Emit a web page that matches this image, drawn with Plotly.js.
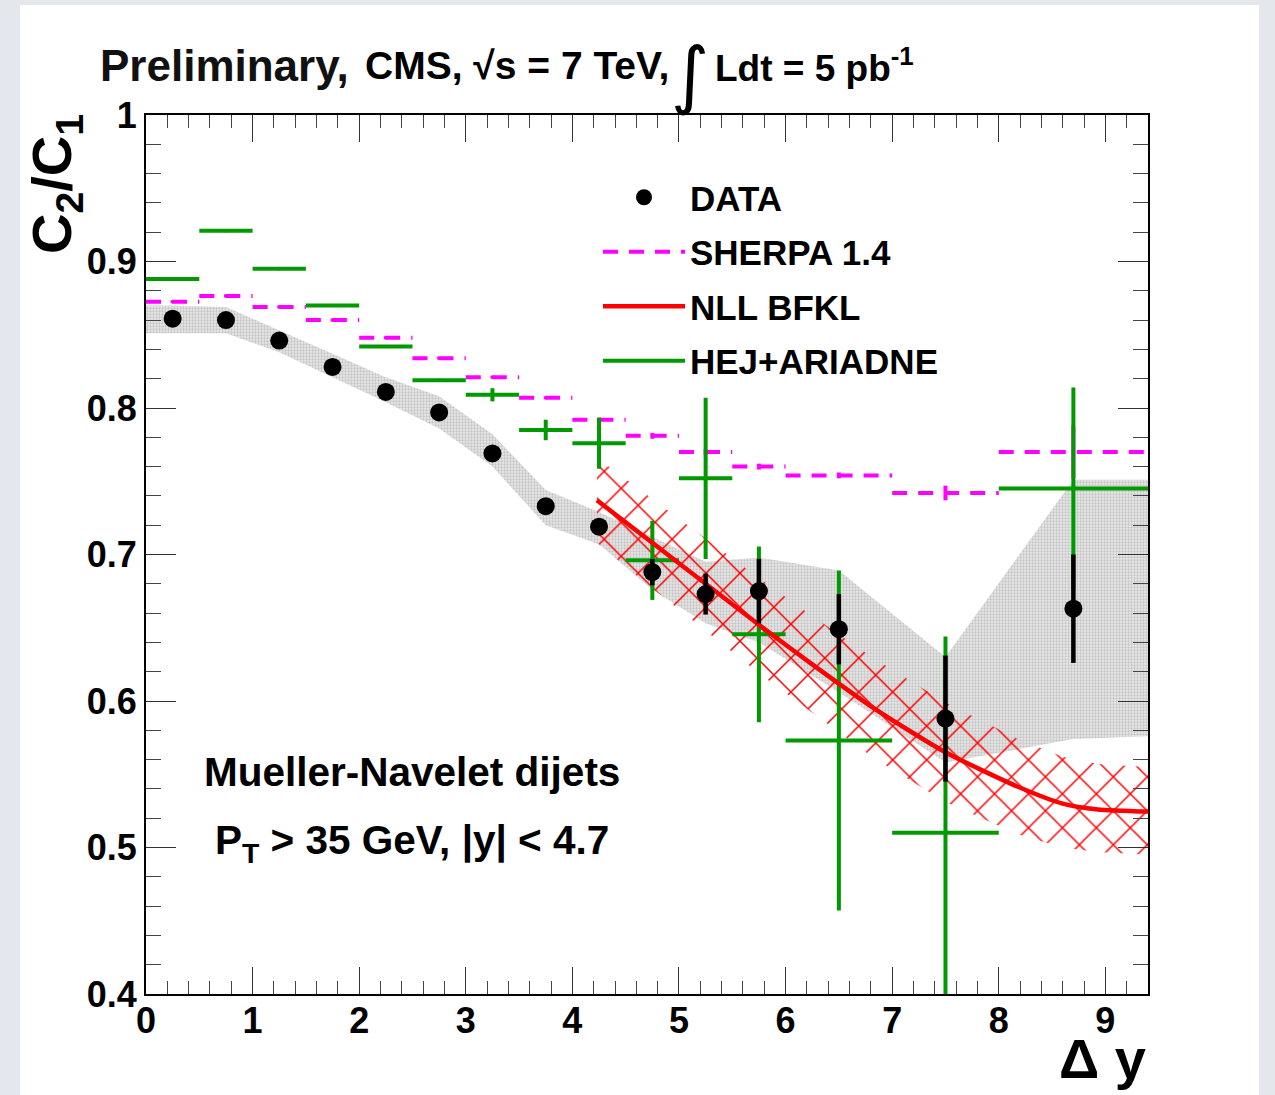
<!DOCTYPE html>
<html>
<head>
<meta charset="utf-8">
<script src="https://cdn.plot.ly/plotly-3.0.1.min.js"></script>
<style>
  html, body { margin: 0; padding: 0; background: #e4e7eb; width: 1275px; height: 1095px; overflow: hidden; }
  #plot { position: absolute; left: 20px; top: 5px; width: 1239px; height: 1090px; background: #ffffff; }
</style>
</head>
<body>
<div id="plot"></div>
<script>
// ---------------- data ----------------
// bin edges in delta-y (shared by SHERPA / HEJ / DATA binning)
const binEdges = [0, 0.5, 1, 1.5, 2, 2.5, 3, 3.5, 4, 4.5, 5, 5.5, 6, 7, 8, 9.4];

// DATA: C2/C1 with statistical errors
const dataY   = [0.861, 0.860, 0.846, 0.828, 0.811, 0.797, 0.769, 0.733, 0.719, 0.688, 0.673, 0.675, 0.649, 0.588, 0.663];
const dataErr = [0.003, 0.003, 0.003, 0.003, 0.003, 0.003, 0.004, 0.004, 0.005, 0.009, 0.014, 0.022, 0.024, 0.043, 0.037];

// DATA systematic band (edges of grey band)
const bandX  = [0, 0.25, 0.75, 1.25, 1.75, 2.25, 2.75, 3.25, 3.75, 4.25, 4.75, 5.25, 5.75, 6.5, 7.5, 8.7, 9.4];
const bandHi = [0.870, 0.870, 0.869, 0.853, 0.837, 0.821, 0.808, 0.782, 0.744, 0.729, 0.712, 0.695, 0.698, 0.689, 0.630, 0.751, 0.751];
const bandLo = [0.851, 0.851, 0.851, 0.838, 0.821, 0.804, 0.786, 0.760, 0.720, 0.707, 0.676, 0.653, 0.640, 0.606, 0.558, 0.574, 0.576];

// SHERPA 1.4
const sherpaY   = [0.8726, 0.8765, 0.869, 0.860, 0.848, 0.834, 0.821, 0.807, 0.792, 0.781, 0.770, 0.760, 0.754, 0.742, 0.770];
const sherpaErr = [0.001, 0.001, 0.001, 0.001, 0.001, 0.001, 0.001, 0.001, 0.001, 0.002, 0.002, 0.002, 0.002, 0.005, 0.018];

// HEJ+ARIADNE
const hejY   = [0.888, 0.921, 0.895, 0.870, 0.842, 0.819, 0.809, 0.785, 0.776, 0.696, 0.752, 0.6455, 0.573, 0.510, 0.745];
const hejErr = [0.001, 0.001, 0.001, 0.001, 0.001, 0.001, 0.0045, 0.007, 0.0175, 0.027, 0.055, 0.060, 0.116, 0.134, 0.069];

// NLL BFKL central curve and uncertainty band
const nllX  = [4.23, 4.75, 5.25, 5.75, 6.25, 6.83, 7.5, 8.18, 8.6, 8.93, 9.4];
const nllY  = [0.737, 0.708, 0.680, 0.652, 0.625, 0.595, 0.565, 0.5415, 0.530, 0.526, 0.5245];
const nllHi = [0.766, 0.738, 0.711, 0.684, 0.658, 0.629, 0.599, 0.574, 0.562, 0.557, 0.555];
const nllLo = [0.708, 0.677, 0.648, 0.619, 0.592, 0.561, 0.531, 0.509, 0.500, 0.497, 0.495];

// axis ticks
const xTicks = [0, 1, 2, 3, 4, 5, 6, 7, 8, 9];
const yTicks = [0.4, 0.5, 0.6, 0.7, 0.8, 0.9, 1];

// ---------------- derived helpers ----------------
const binCenters = [];
for (let i = 0; i < binEdges.length - 1; i++) {
  binCenters.push((binEdges[i] + binEdges[i + 1]) / 2);
}
function stepSegments(vals) {
  const xs = [], ys = [];
  for (let i = 0; i < vals.length; i++) {
    xs.push(binEdges[i], binEdges[i + 1], null);
    ys.push(vals[i], vals[i], null);
  }
  return {x: xs, y: ys};
}
const sherpaSeg = stepSegments(sherpaY);
const hejSeg = stepSegments(hejY);

const FONT = 'Liberation Sans, Arial, Helvetica, sans-serif';
const GREEN = '#009a00';
const MAGENTA = '#ff00ff';
const RED = '#ff0000';

const traces = [
  // grey systematic band
  {
    type: 'scatter', mode: 'lines',
    x: bandX.concat(bandX.slice().reverse()),
    y: bandHi.concat(bandLo.slice().reverse()),
    fill: 'toself', fillcolor: 'rgb(220,220,220)',
    fillpattern: {shape: '.', size: 3, solidity: 0.45, fgcolor: 'rgb(196,196,196)', bgcolor: 'rgb(232,232,232)', fgopacity: 1},
    line: {width: 0, color: 'rgba(0,0,0,0)'},
    showlegend: false, hoverinfo: 'skip'
  },
  // NLL BFKL hatched band
  {
    type: 'scatter', mode: 'lines',
    x: nllX.concat(nllX.slice().reverse()),
    y: nllHi.concat(nllLo.slice().reverse()),
    fill: 'toself', fillcolor: 'rgba(0,0,0,0)',
    fillpattern: {shape: 'x', size: 24, solidity: 0.12, fgcolor: RED, fgopacity: 1, bgcolor: 'rgba(0,0,0,0)', fillmode: 'overlay'},
    line: {width: 0, color: 'rgba(0,0,0,0)'},
    showlegend: false, hoverinfo: 'skip'
  },
  // SHERPA dashed bin lines
  {
    type: 'scatter', mode: 'lines', name: 'SHERPA 1.4',
    x: sherpaSeg.x, y: sherpaSeg.y, connectgaps: false,
    line: {color: MAGENTA, width: 4, dash: '15px,11px'},
    legendrank: 2, legendgroup: 'g2'
  },
  // SHERPA error bars
  {
    type: 'scatter', mode: 'markers',
    x: binCenters, y: sherpaY,
    marker: {size: 1, color: 'rgba(0,0,0,0)'},
    error_y: {type: 'data', array: sherpaErr, visible: true, color: MAGENTA, thickness: 4, width: 0},
    showlegend: false, hoverinfo: 'skip'
  },
  // HEJ+ARIADNE bin lines
  {
    type: 'scatter', mode: 'lines', name: 'HEJ+ARIADNE',
    x: hejSeg.x, y: hejSeg.y, connectgaps: false,
    line: {color: GREEN, width: 4},
    legendrank: 4, legendgroup: 'g4'
  },
  // HEJ error bars
  {
    type: 'scatter', mode: 'markers',
    x: binCenters, y: hejY,
    marker: {size: 1, color: 'rgba(0,0,0,0)'},
    error_y: {type: 'data', array: hejErr, visible: true, color: GREEN, thickness: 4, width: 0},
    showlegend: false, hoverinfo: 'skip'
  },
  // NLL BFKL curve
  {
    type: 'scatter', mode: 'lines', name: 'NLL BFKL',
    x: nllX, y: nllY,
    line: {color: RED, width: 4.5, shape: 'spline', smoothing: 0.6},
    legendrank: 3, legendgroup: 'g3'
  },
  // DATA points
  {
    type: 'scatter', mode: 'markers', name: 'DATA',
    x: binCenters, y: dataY,
    marker: {size: 18, color: '#000000', symbol: 'circle'},
    error_y: {type: 'data', array: dataErr, visible: true, color: '#000000', thickness: 4.5, width: 0},
    legendrank: 1, legendgroup: 'g1'
  }
];

function px2x(px) { return (px - 146) / 1002; }
function py2y(py) { return (994 - py) / 879; }

const bold = {family: FONT, color: '#000000', weight: 'bold'};

const layout = {
  width: 1239, height: 1090,
  margin: {l: 126, r: 111, t: 110, b: 101, pad: 0},
  paper_bgcolor: '#ffffff', plot_bgcolor: '#ffffff',
  showlegend: true,
  legend: {
    x: px2x(598), y: py2y(168), xanchor: 'left', yanchor: 'top',
    bgcolor: 'rgba(0,0,0,0)', borderwidth: 0,
    font: Object.assign({size: 35}, bold),
    itemwidth: 82, traceorder: 'grouped', tracegroupgap: 6,
    itemclick: false, itemdoubleclick: false
  },
  xaxis: {
    range: [0, 9.4], tickmode: 'array', tickvals: xTicks,
    ticks: 'inside', ticklen: 27, tickwidth: 1, tickcolor: '#333333',
    minor: {dtick: 0.2, ticks: 'inside', ticklen: 13, tickwidth: 1, tickcolor: '#444444'},
    showline: true, linecolor: '#000000', linewidth: 2, mirror: 'ticks',
    showgrid: false, zeroline: false,
    tickfont: Object.assign({size: 36}, bold),
    ticklabelstandoff: -6
  },
  yaxis: {
    range: [0.4, 1.0], tickmode: 'array', tickvals: yTicks,
    ticks: 'inside', ticklen: 30, tickwidth: 1, tickcolor: '#333333',
    minor: {dtick: 0.02, ticks: 'inside', ticklen: 15, tickwidth: 1, tickcolor: '#444444'},
    showline: true, linecolor: '#000000', linewidth: 2, mirror: 'ticks',
    showgrid: false, zeroline: false,
    tickfont: Object.assign({size: 36}, bold),
    ticklabelstandoff: 0
  },
  annotations: [
    {xref: 'paper', yref: 'paper', x: px2x(98), y: py2y(66), xanchor: 'left', yanchor: 'middle',
     text: 'Preliminary,', showarrow: false, font: {family: FONT, weight: 'bold', size: 44, color: '#111111'}},
    {xref: 'paper', yref: 'paper', x: px2x(363), y: py2y(66), xanchor: 'left', yanchor: 'middle',
     text: 'CMS, √s = 7 TeV,', showarrow: false, font: Object.assign({size: 39}, bold)},
    {xref: 'paper', yref: 'paper', x: px2x(690), y: py2y(74), xanchor: 'center', yanchor: 'middle',
     text: '∫', showarrow: false, font: {family: 'DejaVu Sans, sans-serif', size: 74, color: '#000000'}},
    {xref: 'paper', yref: 'paper', x: px2x(713), y: py2y(66), xanchor: 'left', yanchor: 'middle',
     text: 'Ldt = 5 pb<sup>-1</sup>', showarrow: false, font: Object.assign({size: 37}, bold)},
    {xref: 'paper', yref: 'paper', x: px2x(56), y: py2y(184), xanchor: 'center', yanchor: 'middle',
     text: 'C<sub>2</sub>/C<sub>1</sub>', textangle: -90, showarrow: false, font: Object.assign({size: 56}, bold)},
    {xref: 'paper', yref: 'paper', x: 1.0, y: py2y(1058), xanchor: 'right', yanchor: 'middle',
     text: 'Δ y', showarrow: false, font: Object.assign({size: 56}, bold)},
    {xref: 'paper', yref: 'paper', x: px2x(202), y: py2y(772), xanchor: 'left', yanchor: 'middle',
     text: 'Mueller-Navelet dijets', showarrow: false, font: Object.assign({size: 40.5}, bold)},
    {xref: 'paper', yref: 'paper', x: px2x(213), y: py2y(843), xanchor: 'left', yanchor: 'middle',
     text: 'P<sub>T</sub> &gt; 35 GeV, |y| &lt; 4.7', showarrow: false, font: Object.assign({size: 40.5}, bold)}
  ]
};

Plotly.newPlot('plot', traces, layout, {displayModeBar: false, staticPlot: true});
</script>
</body>
</html>
